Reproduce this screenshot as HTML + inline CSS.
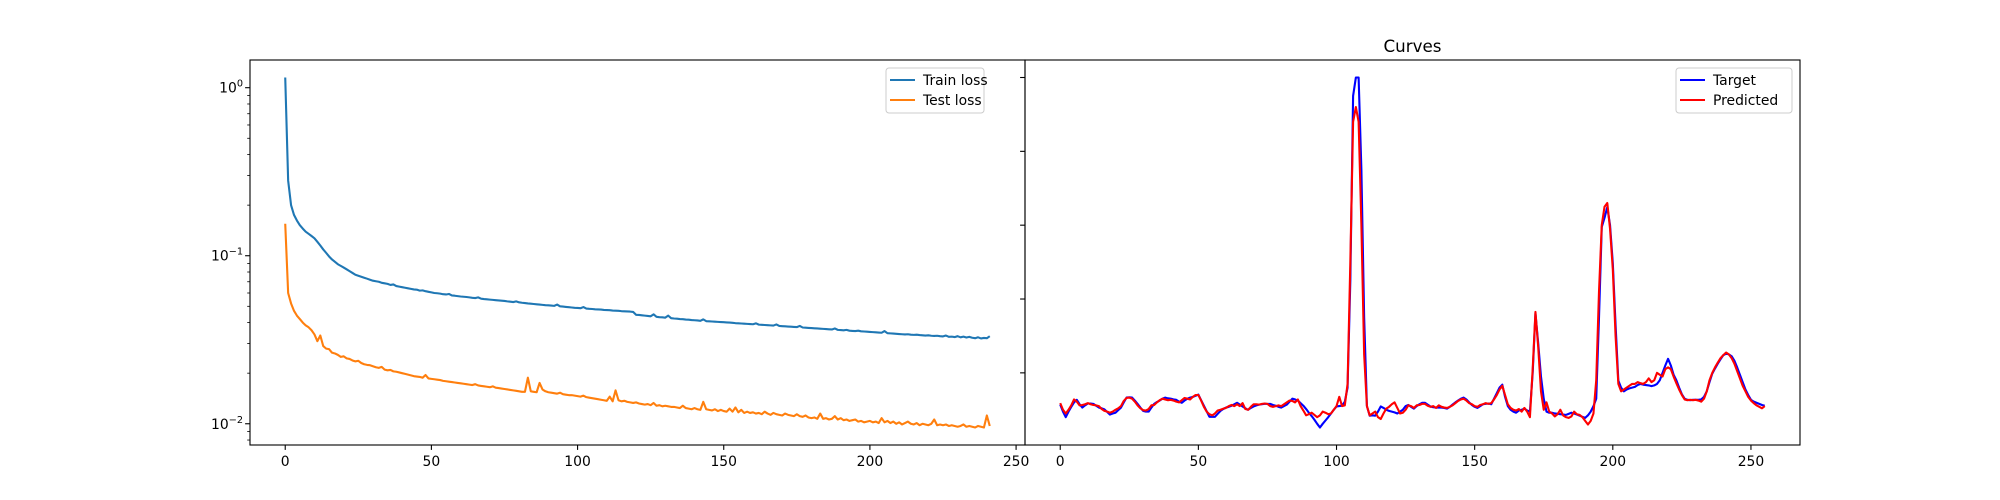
<!DOCTYPE html>
<html><head><meta charset="utf-8"><style>
body{margin:0;background:#fff}
svg{display:block;font-family:"DejaVu Sans","Liberation Sans",sans-serif}
</style></head><body>
<svg id="fig" width="2000" height="500" viewBox="0 0 2000 500" xmlns="http://www.w3.org/2000/svg">
<rect width="2000" height="500" fill="#fff"/>
<g id="left"></g>
<g id="right"></g>
</svg>
<script>
const trainLoss=[1.15,0.28,0.20,0.175,0.162,0.152,0.145,0.139,0.135,0.131,
0.127,0.121,0.115,0.109,0.104,0.099,0.095,0.092,0.089,0.087,
0.085,0.083,0.081,0.079,0.077,0.076,0.075,0.074,0.073,0.072,
0.071,0.0705,0.070,0.069,0.0685,0.068,0.067,0.0675,0.066,0.0655,
0.065,0.0645,0.064,0.0635,0.063,0.0628,0.062,0.0622,0.0615,0.061,
0.0605,0.060,0.0598,0.0595,0.059,0.0588,0.0592,0.058,0.0578,0.0575,
0.0572,0.057,0.0568,0.0565,0.0562,0.056,0.0565,0.0555,0.0552,0.055,
0.0548,0.0546,0.0544,0.0542,0.054,0.0538,0.0535,0.0533,0.053,0.0535,
0.0528,0.0525,0.0523,0.052,0.0518,0.0516,0.0514,0.0512,0.051,0.0508,
0.0507,0.0505,0.0503,0.0512,0.050,0.0498,0.0496,0.0494,0.0492,0.049,
0.0489,0.0487,0.0495,0.0485,0.0483,0.0482,0.048,0.0479,0.0478,0.0476,
0.0475,0.0474,0.0472,0.0471,0.047,0.0468,0.0467,0.0466,0.0465,0.0463,
0.0445,0.0444,0.0442,0.044,0.0438,0.0436,0.0448,0.0433,0.0431,0.043,
0.0428,0.044,0.0425,0.0423,0.0422,0.042,0.0419,0.0417,0.0416,0.0414,
0.0413,0.0412,0.041,0.0418,0.0408,0.0407,0.0406,0.0405,0.0404,0.0403,
0.0402,0.0401,0.04,0.0399,0.0397,0.0396,0.0395,0.0394,0.0393,0.0392,
0.0391,0.0396,0.0389,0.0388,0.0387,0.0386,0.0385,0.0384,0.039,0.0382,
0.0381,0.038,0.0379,0.0378,0.0377,0.0376,0.0382,0.0374,0.0373,0.0372,
0.0371,0.037,0.0369,0.0368,0.0367,0.0366,0.0365,0.0364,0.0369,0.0362,
0.0361,0.036,0.0362,0.0358,0.0357,0.0356,0.0358,0.0355,0.0354,0.0353,
0.0352,0.0351,0.035,0.0349,0.0348,0.0356,0.0346,0.0345,0.0344,0.0343,
0.0342,0.0341,0.034,0.0341,0.0339,0.0338,0.0339,0.0337,0.0336,0.0335,
0.0336,0.0334,0.0333,0.0334,0.0332,0.0331,0.0335,0.0329,0.033,0.0328,
0.0332,0.0327,0.033,0.0326,0.0329,0.0325,0.0323,0.0327,0.0322,0.0324,0.0323,0.0332];
const testLoss=[0.155,0.06,0.052,0.047,0.044,0.042,0.040,0.0385,0.0375,0.036,
0.034,0.031,0.0335,0.029,0.028,0.0278,0.0265,0.0262,0.0257,0.025,
0.0252,0.0245,0.0243,0.0238,0.0235,0.0237,0.023,0.0226,0.0224,0.0223,
0.022,0.0217,0.0215,0.0218,0.021,0.0208,0.0209,0.0205,0.0204,0.0202,
0.020,0.0198,0.0196,0.0194,0.0192,0.0191,0.019,0.0188,0.0195,0.0186,
0.0185,0.0184,0.0183,0.0182,0.018,0.0179,0.0178,0.0177,0.0176,0.0175,
0.0174,0.0173,0.0172,0.0171,0.017,0.0172,0.0169,0.0168,0.0167,0.0166,
0.0165,0.0167,0.0164,0.0163,0.0162,0.0161,0.016,0.0159,0.0158,0.0157,
0.0156,0.0155,0.0155,0.0188,0.0156,0.0155,0.0154,0.0175,0.016,0.0156,
0.0154,0.0153,0.0152,0.0151,0.0153,0.015,0.0149,0.0148,0.0148,0.0147,
0.0146,0.0145,0.0147,0.0144,0.0143,0.0142,0.0141,0.014,0.0139,0.0138,
0.0137,0.0145,0.0136,0.0158,0.0138,0.0136,0.0137,0.0135,0.0134,0.0133,
0.0134,0.0132,0.0131,0.013,0.0131,0.0129,0.0133,0.0128,0.0129,0.0127,
0.0128,0.0127,0.0126,0.0126,0.0125,0.0124,0.0128,0.0124,0.0123,0.0122,
0.0124,0.0122,0.0121,0.0135,0.0122,0.0121,0.012,0.0122,0.0119,0.0121,
0.0119,0.0118,0.0123,0.0118,0.0125,0.0117,0.0121,0.0116,0.0118,0.0116,
0.0117,0.0115,0.0116,0.0114,0.0118,0.0115,0.0113,0.0116,0.0114,0.0113,
0.0112,0.0115,0.0113,0.0112,0.0111,0.0114,0.0111,0.011,0.0112,0.0109,
0.0108,0.0109,0.0107,0.0115,0.0107,0.0108,0.0106,0.0107,0.0111,0.0106,
0.0108,0.0105,0.0106,0.0104,0.0105,0.0106,0.0103,0.0104,0.0102,0.0103,
0.0104,0.0102,0.0103,0.0101,0.0108,0.0102,0.0104,0.0101,0.0103,0.01,
0.0102,0.0099,0.0101,0.0103,0.01,0.0099,0.0101,0.0098,0.01,0.0099,
0.0098,0.01,0.0106,0.0098,0.0099,0.0098,0.0099,0.0097,0.0098,0.0097,
0.0096,0.0097,0.0099,0.0096,0.0097,0.0096,0.0095,0.0097,0.0096,0.0095,0.0112,0.0097];
const targetCurve=[0.114,0.095,0.080,0.095,0.108,0.120,0.127,0.115,0.106,0.112,
0.117,0.117,0.116,0.111,0.106,0.104,0.101,0.094,0.087,0.090,
0.092,0.099,0.106,0.120,0.133,0.134,0.133,0.125,0.116,0.106,
0.097,0.095,0.095,0.106,0.116,0.121,0.125,0.130,0.133,0.131,
0.130,0.128,0.127,0.122,0.119,0.125,0.130,0.133,0.135,0.138,
0.141,0.126,0.111,0.096,0.081,0.081,0.081,0.089,0.097,0.102,
0.106,0.108,0.111,0.115,0.119,0.114,0.109,0.104,0.100,0.105,
0.109,0.112,0.114,0.115,0.116,0.116,0.116,0.113,0.111,0.108,
0.106,0.110,0.114,0.122,0.130,0.128,0.125,0.118,0.111,0.102,
0.092,0.083,0.073,0.062,0.052,0.062,0.071,0.080,0.090,0.100,
0.109,0.110,0.111,0.122,0.16,0.45,0.95,1.0,1.0,0.75,
0.35,0.11,0.084,0.085,0.084,0.095,0.109,0.105,0.100,0.097,
0.095,0.093,0.090,0.095,0.100,0.110,0.113,0.108,0.103,0.110,
0.115,0.119,0.119,0.114,0.109,0.107,0.106,0.106,0.106,0.105,
0.103,0.108,0.114,0.120,0.125,0.130,0.133,0.128,0.120,0.113,
0.108,0.105,0.110,0.115,0.116,0.117,0.115,0.130,0.145,0.160,
0.168,0.135,0.110,0.100,0.095,0.092,0.098,0.100,0.103,0.098,
0.095,0.200,0.361,0.280,0.190,0.130,0.095,0.092,0.092,0.090,
0.089,0.088,0.087,0.086,0.089,0.092,0.090,0.087,0.084,0.081,
0.078,0.085,0.095,0.110,0.130,0.350,0.595,0.620,0.649,0.600,
0.497,0.330,0.179,0.160,0.150,0.155,0.158,0.160,0.162,0.167,
0.170,0.168,0.167,0.166,0.164,0.166,0.170,0.180,0.200,0.220,
0.238,0.220,0.195,0.180,0.160,0.142,0.130,0.127,0.126,0.127,
0.127,0.127,0.128,0.135,0.150,0.175,0.198,0.212,0.225,0.237,
0.248,0.252,0.250,0.245,0.233,0.215,0.195,0.175,0.155,0.140,
0.127,0.122,0.119,0.116,0.113,0.111];
const predictedCurve=[0.118,0.100,0.090,0.100,0.112,0.128,0.122,0.112,0.113,0.115,
0.118,0.115,0.113,0.112,0.110,0.102,0.097,0.095,0.092,0.095,
0.100,0.104,0.110,0.124,0.132,0.133,0.130,0.122,0.112,0.104,
0.099,0.098,0.102,0.112,0.113,0.120,0.126,0.130,0.128,0.126,
0.127,0.125,0.122,0.120,0.126,0.132,0.130,0.128,0.135,0.140,
0.140,0.125,0.108,0.095,0.088,0.085,0.090,0.098,0.100,0.103,
0.105,0.110,0.113,0.110,0.115,0.110,0.118,0.102,0.100,0.108,
0.115,0.115,0.114,0.116,0.117,0.116,0.110,0.108,0.110,0.112,
0.110,0.115,0.120,0.125,0.124,0.120,0.128,0.110,0.098,0.085,
0.088,0.092,0.086,0.080,0.085,0.095,0.092,0.088,0.090,0.100,
0.110,0.135,0.110,0.112,0.17,0.5,0.88,0.92,0.88,0.6,
0.25,0.11,0.085,0.090,0.095,0.080,0.075,0.090,0.103,0.108,
0.115,0.120,0.105,0.090,0.092,0.100,0.112,0.110,0.105,0.112,
0.113,0.116,0.116,0.111,0.108,0.110,0.105,0.112,0.108,0.106,
0.105,0.108,0.112,0.118,0.124,0.128,0.130,0.125,0.118,0.115,
0.110,0.108,0.113,0.115,0.118,0.116,0.118,0.128,0.140,0.155,
0.165,0.140,0.115,0.105,0.100,0.098,0.102,0.095,0.105,0.095,
0.08,0.210,0.365,0.270,0.150,0.100,0.120,0.095,0.090,0.082,
0.088,0.100,0.085,0.080,0.078,0.082,0.095,0.088,0.086,0.080,
0.070,0.060,0.070,0.090,0.180,0.420,0.600,0.650,0.660,0.590,
0.480,0.300,0.170,0.150,0.155,0.160,0.165,0.170,0.170,0.175,
0.172,0.170,0.175,0.185,0.175,0.180,0.200,0.195,0.190,0.210,
0.215,0.210,0.190,0.172,0.155,0.140,0.128,0.126,0.127,0.126,
0.127,0.125,0.122,0.130,0.150,0.180,0.200,0.215,0.228,0.240,
0.248,0.255,0.250,0.240,0.225,0.205,0.185,0.165,0.150,0.135,
0.125,0.118,0.112,0.108,0.104,0.110];
const xTicks=[0,50,100,150,200,250];
const logMajor=[-2,-1,0];
const curveYTicks=[0.2,0.4,0.6,0.8,1.0];

const NS='http://www.w3.org/2000/svg';
function mk(parent,tag,attrs,name){const e=document.createElementNS(NS,tag);for(const k in attrs)e.setAttribute(k,attrs[k]);


parent.appendChild(e);return e;}
const T=60,B=445;
// left axes
const L=document.getElementById('left');
const lx0=250,lx1=1025;
function lmin(a){let m=Infinity;for(const v of a)if(v<m)m=v;return m;}
function lmax(a){let m=-Infinity;for(const v of a)if(v>m)m=v;return m;}
const nL=Math.max(trainLoss.length,testLoss.length)-1;
const lxa=-0.05*nL,lxb=nL*1.05;
const lgLo=Math.log10(Math.min(lmin(trainLoss),lmin(testLoss))),lgHi=Math.log10(Math.max(lmax(trainLoss),lmax(testLoss)));
const lgA=lgLo-0.05*(lgHi-lgLo),lgB=lgHi+0.05*(lgHi-lgLo);
const X1=v=>lx0+(v-lxa)/(lxb-lxa)*(lx1-lx0);
const Y1=v=>B-(Math.log10(v)-lgA)/(lgB-lgA)*(B-T);
function line(g,arr,X,Y,color,name){let d='';arr.forEach((v,i)=>{d+=(i?'L':'M')+X(i).toFixed(2)+' '+Y(v).toFixed(2);});
mk(g,'path',{d:d,fill:'none',stroke:color,'stroke-width':2.1,'stroke-linejoin':'round'},name);}
line(L,trainLoss,X1,Y1,'#1f77b4','train-loss-line');
line(L,testLoss,X1,Y1,'#ff7f0e','test-loss-line');
xTicks.forEach(t=>{const x=X1(t);if(x>lx1)return;
mk(L,'line',{x1:x,x2:x,y1:B,y2:B+4.9,stroke:'#000','stroke-width':1.1},'x-tick');
const tx=mk(L,'text',{x:x,y:B+21,'font-size':13.9,'text-anchor':'middle'},'x-tick-label');tx.textContent=t;});
logMajor.forEach(p=>{const y=Y1(Math.pow(10,p));
mk(L,'line',{x1:lx0-4.9,x2:lx0,y1:y,y2:y,stroke:'#000','stroke-width':1.1},'y-tick');
const tx=mk(L,'text',{x:lx0-7,y:y+5,'font-size':13.9,'text-anchor':'end'},'y-tick-label');
tx.textContent='10';const s=document.createElementNS(NS,'tspan');s.setAttribute('dy','-6');s.setAttribute('font-size','9.7');s.textContent=p===0?'0':'−'+(-p);tx.appendChild(s);});
for(let p=-3;p<=0;p++)for(let m=2;m<=9;m++){const v=m*Math.pow(10,p);const lg=Math.log10(v);if(lg<lgA||lg>lgB)continue;const y=Y1(v);
mk(L,'line',{x1:lx0-2.8,x2:lx0,y1:y,y2:y,stroke:'#000','stroke-width':0.8},'y-minor-tick');}
mk(L,'rect',{x:lx0,y:T,width:lx1-lx0,height:B-T,fill:'none',stroke:'#000','stroke-width':1.1},'left-axes-frame');
// legend left
function legend(g,x,y,w,items,name){mk(g,'rect',{x:x,y:y,width:w,height:45,rx:3,fill:'#fff','fill-opacity':0.8,stroke:'#ccc','stroke-width':1},name);
items.forEach((it,i)=>{const yy=y+12+i*20;mk(g,'line',{x1:x+4,x2:x+29,y1:yy,y2:yy,stroke:it[1],'stroke-width':2.1},'legend-swatch');
const t=mk(g,'text',{x:x+37,y:yy+5,'font-size':13.9},'legend-label');t.textContent=it[0];});}
legend(L,886,68,98,[['Train loss','#1f77b4'],['Test loss','#ff7f0e']],'loss-legend');
// right axes
const R=document.getElementById('right');
const rx0=1025,rx1=1800;
const nR=Math.max(targetCurve.length,predictedCurve.length)-1;
const rxa=-0.05*nR,rxb=nR*1.05;
const rLo=Math.min(lmin(targetCurve),lmin(predictedCurve)),rHi=Math.max(lmax(targetCurve),lmax(predictedCurve));
const ryA=rLo-0.05*(rHi-rLo),ryB=rHi+0.05*(rHi-rLo);
const X2=v=>rx0+(v-rxa)/(rxb-rxa)*(rx1-rx0);
const Y2=v=>B-(v-ryA)/(ryB-ryA)*(B-T);
line(R,targetCurve,X2,Y2,'#0000ff','target-line');
line(R,predictedCurve,X2,Y2,'#ff0000','predicted-line');
xTicks.forEach(t=>{const x=X2(t);
mk(R,'line',{x1:x,x2:x,y1:B,y2:B+4.9,stroke:'#000','stroke-width':1.1},'x-tick');
const tx=mk(R,'text',{x:x,y:B+21,'font-size':13.9,'text-anchor':'middle'},'x-tick-label');tx.textContent=t;});
curveYTicks.forEach(t=>{const y=Y2(t);
mk(R,'line',{x1:rx0-4.9,x2:rx0,y1:y,y2:y,stroke:'#000','stroke-width':1.1},'y-tick');});
mk(R,'rect',{x:rx0,y:T,width:rx1-rx0,height:B-T,fill:'none',stroke:'#000','stroke-width':1.1},'right-axes-frame');
const title=mk(R,'text',{x:(rx0+rx1)/2,y:52,'font-size':16.7,'text-anchor':'middle'},'chart-title');title.textContent='Curves';
legend(R,1676,68,116,[['Target','#0000ff'],['Predicted','#ff0000']],'curves-legend');
</script>
</body></html>
